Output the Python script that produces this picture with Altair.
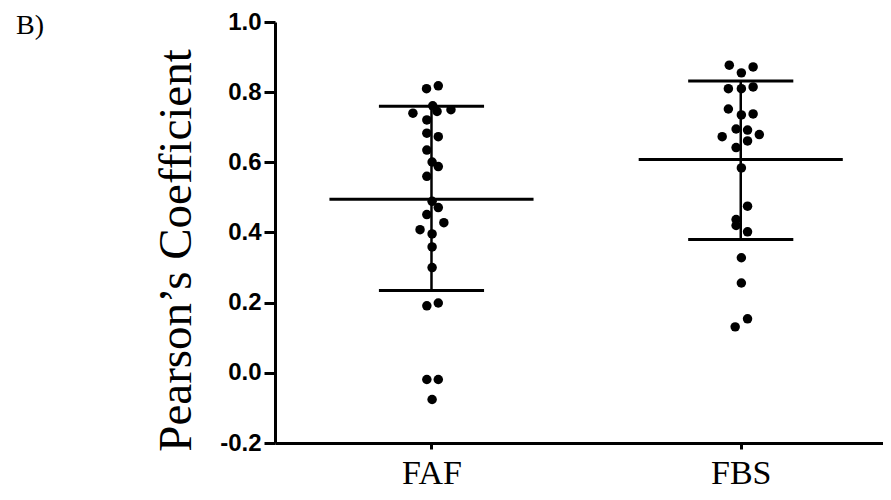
import altair as alt
import pandas as pd

# Category positions
categories = ["FAF", "FBS"]
cat_pos = [0, 1]

# Individual Pearson coefficients and their horizontal jitter (category units)
faf_values = [0.818, 0.810, 0.761, 0.740, 0.745, 0.750, 0.721, 0.683, 0.673, 0.635,
              0.601, 0.588, 0.560, 0.489, 0.471, 0.451, 0.428, 0.408, 0.396, 0.359,
              0.300, 0.191, 0.199, -0.019, -0.019, -0.076]
faf_jitter = [0.022, -0.016, 0.004, -0.060, 0.018, 0.063, -0.015, -0.015, 0.022, -0.015,
              0.002, 0.022, -0.015, 0.002, 0.022, -0.015, 0.040, -0.037, 0.002, 0.002,
              0.002, -0.015, 0.022, -0.015, 0.022, 0.002]

fbs_values = [0.877, 0.872, 0.855, 0.810, 0.810, 0.815, 0.752, 0.735, 0.738, 0.695,
              0.692, 0.673, 0.679, 0.661, 0.642, 0.584, 0.475, 0.437, 0.420, 0.402,
              0.328, 0.256, 0.154, 0.131]
fbs_jitter = [-0.037, 0.040, 0.002, -0.040, 0.002, 0.040, -0.040, 0.002, 0.040, -0.015,
              0.022, -0.060, 0.060, 0.022, -0.015, 0.002, 0.022, -0.015, -0.015, 0.022,
              0.002, 0.002, 0.022, -0.018]

# Summary statistics (mean and ± SD)
means = [0.495, 0.608]
sd_upper = [0.760, 0.832]
sd_lower = [0.235, 0.380]
mean_halfwidth = 0.33
sd_halfwidth = 0.17

pts = pd.DataFrame({
    "group": ["FAF"] * len(faf_values) + ["FBS"] * len(fbs_values),
    "value": faf_values + fbs_values,
    "xpos": [cat_pos[0] + j for j in faf_jitter] + [cat_pos[1] + j for j in fbs_jitter],
})

stats = pd.DataFrame({
    "group": categories,
    "pos": cat_pos,
    "mean": means,
    "upper": sd_upper,
    "lower": sd_lower,
    "m_lo": [p - mean_halfwidth for p in cat_pos],
    "m_hi": [p + mean_halfwidth for p in cat_pos],
    "s_lo": [p - sd_halfwidth for p in cat_pos],
    "s_hi": [p + sd_halfwidth for p in cat_pos],
})

xscale = alt.Scale(domain=[-0.506, 1.46], nice=False, zero=False)
yscale = alt.Scale(domain=[-0.2, 1.0], nice=False, zero=False)

xaxis = alt.Axis(
    values=cat_pos,
    labelExpr="datum.value == 0 ? 'FAF' : 'FBS'",
    title=None,
    grid=False,
    labelFont="Liberation Serif",
    labelFontSize=34,
    labelFontWeight="normal",
    labelColor="black",
    labelPadding=7,
    tickSize=6,
    tickWidth=3,
    tickColor="black",
    domainWidth=3,
    domainColor="black",
)

yaxis = alt.Axis(
    values=[-0.2, 0.0, 0.2, 0.4, 0.6, 0.8, 1.0],
    labelExpr="replace(format(datum.value, '.1f'), '\u2212', '-')",
    title="Pearson\u2019s Coefficient",
    grid=False,
    labelFont="Liberation Sans",
    labelFontSize=24,
    labelFontWeight="bold",
    labelColor="black",
    labelPadding=3,
    tickSize=11,
    tickWidth=3,
    tickColor="black",
    domainWidth=3,
    domainColor="black",
    titleFont="Liberation Serif",
    titleFontSize=47,
    titleFontWeight="normal",
    titleColor="black",
    titleAngle=270,
    titleAlign="center",
    titleBaseline="alphabetic",
    titleX=-85,
    titleY=228,
)

points = alt.Chart(pts).mark_circle(size=90, color="black", opacity=1).encode(
    x=alt.X("xpos:Q", scale=xscale, axis=xaxis),
    y=alt.Y("value:Q", scale=yscale, axis=yaxis),
)

mean_rule = alt.Chart(stats).mark_rule(color="black", strokeWidth=3).encode(
    x=alt.X("m_lo:Q", scale=xscale),
    x2="m_hi:Q",
    y=alt.Y("mean:Q", scale=yscale),
)

upper_rule = alt.Chart(stats).mark_rule(color="black", strokeWidth=3).encode(
    x=alt.X("s_lo:Q", scale=xscale),
    x2="s_hi:Q",
    y=alt.Y("upper:Q", scale=yscale),
)

lower_rule = alt.Chart(stats).mark_rule(color="black", strokeWidth=3).encode(
    x=alt.X("s_lo:Q", scale=xscale),
    x2="s_hi:Q",
    y=alt.Y("lower:Q", scale=yscale),
)

vert_rule = alt.Chart(stats).mark_rule(color="black", strokeWidth=2.5).encode(
    x=alt.X("pos:Q", scale=xscale),
    y=alt.Y("lower:Q", scale=yscale),
    y2="upper:Q",
)

panel_label = alt.Chart(pd.DataFrame({"t": ["B)"]})).mark_text(
    font="Liberation Serif", fontSize=28, color="black", align="left", baseline="alphabetic"
).encode(
    text="t:N",
    x=alt.value(-259),
    y=alt.value(12),
)

chart = alt.layer(vert_rule, mean_rule, upper_rule, lower_rule, points, panel_label).properties(
    width=608,
    height=421,
    autosize=alt.AutoSizeParams(type="none"),
    padding={"left": 267, "top": 14, "right": 0, "bottom": 49},
).configure_view(stroke=None)

chart.save("out.html", embed_options={"renderer": "svg", "actions": False})
